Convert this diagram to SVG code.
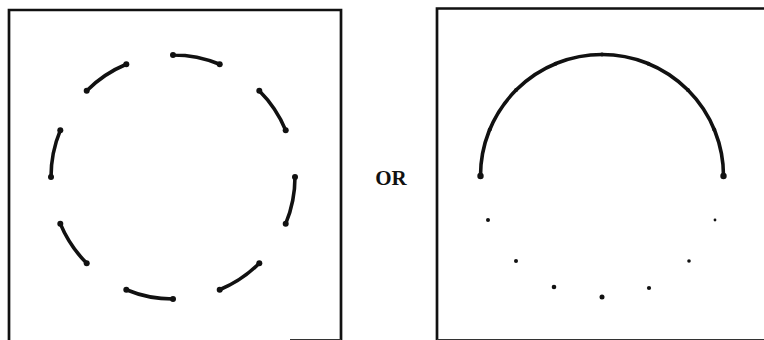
<svg xmlns="http://www.w3.org/2000/svg" width="764" height="340" viewBox="0 0 764 340">
<style>
.frame{fill:none;stroke:#111;stroke-width:2.7}
.bot{fill:none;stroke:#333;stroke-width:1.2}
.arc{fill:none;stroke:#111;stroke-width:3.6;stroke-linecap:round}
.end{fill:#111}
.label{font-family:"Liberation Serif",serif;font-weight:bold;font-size:21px;fill:#111}
</style>
<rect width="764" height="340" fill="#fff"/>
<g id="left-panel">
<path class="frame" d="M9,340 V10 H341 V340"/>
<path class="bot" d="M290,339.5 H341"/>
<circle class="arc" cx="173" cy="177" r="122" pathLength="16" stroke-dasharray="1 1"/>
<g class="end">
<circle cx="295" cy="177" r="3"/><circle cx="285.7" cy="223.7" r="3"/>
<circle cx="259.3" cy="263.3" r="3"/><circle cx="219.7" cy="289.7" r="3"/>
<circle cx="173" cy="299" r="3"/><circle cx="126.3" cy="289.7" r="3"/>
<circle cx="86.7" cy="263.3" r="3"/><circle cx="60.3" cy="223.7" r="3"/>
<circle cx="51" cy="177" r="3"/><circle cx="60.3" cy="130.3" r="3"/>
<circle cx="86.7" cy="90.7" r="3"/><circle cx="126.3" cy="64.3" r="3"/>
<circle cx="173" cy="55" r="3"/><circle cx="219.7" cy="64.3" r="3"/>
<circle cx="259.3" cy="90.7" r="3"/><circle cx="285.7" cy="130.3" r="3"/>
</g>
</g>
<g id="or-label">
<text class="label" x="391" y="185" text-anchor="middle">OR</text>
</g>
<g id="right-panel">
<path class="frame" d="M437,340 V8.5 H764"/>
<path class="bot" d="M437,339.5 H764"/>
<path class="arc" d="M480.5,176 A121.5,121.5 0 0 1 723.5,176"/>
<g class="end">
<circle cx="480.5" cy="176" r="3.2"/><circle cx="723.5" cy="176" r="3.2"/>
<circle cx="489.8" cy="129.5" r="2"/><circle cx="516.1" cy="90.1" r="2"/>
<circle cx="555.5" cy="63.8" r="2"/><circle cx="602" cy="54.5" r="2"/>
<circle cx="648.5" cy="63.8" r="2"/><circle cx="687.9" cy="90.1" r="2"/>
<circle cx="714.2" cy="129.5" r="2"/>
<circle cx="488" cy="220" r="2"/><circle cx="516" cy="261" r="2"/>
<circle cx="554" cy="287" r="2.3"/><circle cx="602" cy="297" r="2.5"/>
<circle cx="649" cy="288" r="2.1"/><circle cx="689" cy="261" r="1.8"/>
<circle cx="715" cy="220" r="1.4"/>
</g>
</g>
</svg>
